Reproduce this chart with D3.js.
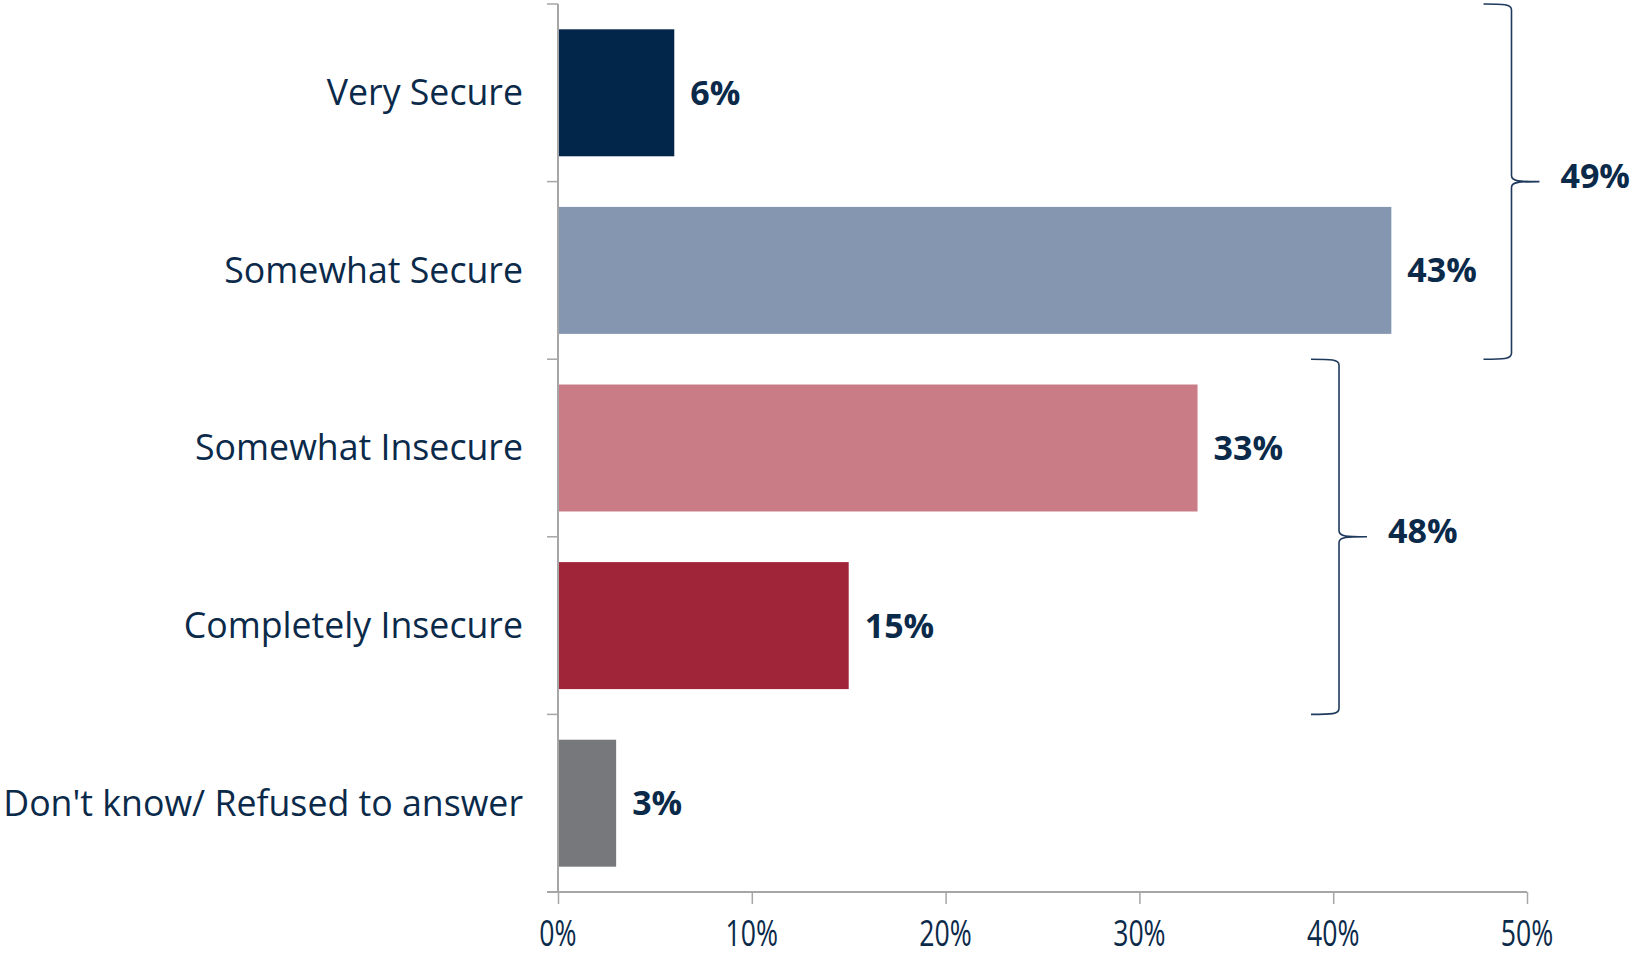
<!DOCTYPE html>
<html>
<head>
<meta charset="utf-8">
<script src="https://cdn.jsdelivr.net/npm/d3@7"></script>
<style>
  html, body { margin: 0; padding: 0; background: #ffffff; }
  svg { display: block; }
</style>
</head>
<body>
<svg id="chart" width="1632" height="957"></svg>
<script>
// ---- data ----
const categories = ["Very Secure", "Somewhat Secure", "Somewhat Insecure", "Completely Insecure", "Don't know/ Refused to answer"];
const values = [6, 43, 33, 15, 3];
const barColors = ["#022649", "#8596b0", "#c97c86", "#a12538", "#77787c"];
const xTicks = [0, 10, 20, 30, 40, 50];
const groupLabels = ["49%", "48%"];
const groupRanges = [[0, 1], [2, 3]];
const groupBraceAt = [49.2, 40.3];

// ---- layout ----
const svg = d3.select("#chart");
const textColor = "#0b2a4a";
const axisColor = "#a6a6a6";

const x = d3.scaleLinear().domain([0, 50]).range([558, 1527]);
const y = d3.scaleBand().domain(categories).range([4, 892])
  .paddingInner(0.285).paddingOuter(0.1425);

// bars
svg.append("g").selectAll("rect").data(categories).join("rect")
  .attr("x", x(0))
  .attr("y", d => y(d))
  .attr("width", (d, i) => x(values[i]) - x(0))
  .attr("height", y.bandwidth())
  .attr("fill", (d, i) => barColors[i]);

// y axis line + boundary ticks
const step = y.step();
const yAxisG = svg.append("g");
yAxisG.append("line")
  .attr("x1", x(0)).attr("x2", x(0))
  .attr("y1", 4).attr("y2", 892)
  .attr("stroke", axisColor).attr("stroke-width", 2);
yAxisG.selectAll("line.tick").data(d3.range(categories.length + 1)).join("line")
  .attr("class", "tick")
  .attr("x1", x(0) - 11).attr("x2", x(0))
  .attr("y1", i => 4 + i * step).attr("y2", i => 4 + i * step)
  .attr("stroke", axisColor).attr("stroke-width", 1.5);

// category labels
svg.append("g").selectAll("text").data(categories).join("text")
  .attr("x", x(0) - 35)
  .attr("y", d => y(d) + y.bandwidth() / 2)
  .attr("dy", "0.35em")
  .attr("text-anchor", "end")
  .attr("font-family", "'Open Sans', sans-serif")
  .attr("font-size", 35.7)
  .attr("fill", textColor)
  .text(d => d);

// value labels
svg.append("g").selectAll("text").data(categories).join("text")
  .attr("x", (d, i) => x(values[i]) + 16)
  .attr("y", d => y(d) + y.bandwidth() / 2)
  .attr("dy", "0.35em")
  .attr("font-family", "'Open Sans', sans-serif")
  .attr("font-weight", "bold")
  .attr("font-size", 34)
  .attr("fill", textColor)
  .text((d, i) => values[i] + "%");

// x axis
const xAxisG = svg.append("g").attr("transform", "translate(0,892)");
xAxisG.call(d3.axisBottom(x).tickValues(xTicks).tickSize(12).tickFormat(""));
xAxisG.select(".domain").remove();
xAxisG.selectAll(".tick line").attr("stroke", axisColor).attr("stroke-width", 1.5);
xAxisG.append("line")
  .attr("x1", x(0) - 11).attr("x2", x(50))
  .attr("y1", 0).attr("y2", 0)
  .attr("stroke", axisColor).attr("stroke-width", 2);

// x tick labels (condensed)
svg.append("g").selectAll("text").data(xTicks).join("text")
  .attr("transform", d => `translate(${x(d)},946) scale(0.74,1)`)
  .attr("text-anchor", "middle")
  .attr("font-family", "'Open Sans', sans-serif")
  .attr("font-size", 36)
  .attr("fill", textColor)
  .text(d => d + "%");

// braces
function bracePath(bx, top, bottom) {
  const mid = (top + bottom) / 2;
  const w = 28, c = 6;
  return `M${bx - w},${top}
    C${bx - 8},${top} ${bx},${top} ${bx},${top + c}
    L${bx},${mid - c}
    C${bx},${mid} ${bx + 8},${mid} ${bx + w},${mid}
    C${bx + 8},${mid} ${bx},${mid} ${bx},${mid + c}
    L${bx},${bottom - c}
    C${bx},${bottom} ${bx - 8},${bottom} ${bx - w},${bottom}`;
}
const braceG = svg.append("g");
groupRanges.forEach((r, gi) => {
  const top = y(categories[r[0]]) - (step - y.bandwidth()) / 2;
  const bottom = y(categories[r[1]]) + y.bandwidth() + (step - y.bandwidth()) / 2;
  const bx = x(groupBraceAt[gi]);
  braceG.append("path")
    .attr("d", bracePath(bx, top, bottom))
    .attr("fill", "none")
    .attr("stroke", "#1f3a5c")
    .attr("stroke-width", 1.6);
  braceG.append("text")
    .attr("x", bx + 49)
    .attr("y", (top + bottom) / 2 - 6)
    .attr("dy", "0.35em")
    .attr("font-family", "'Open Sans', sans-serif")
    .attr("font-weight", "bold")
    .attr("font-size", 34)
    .attr("fill", textColor)
    .text(groupLabels[gi]);
});
</script>
</body>
</html>
